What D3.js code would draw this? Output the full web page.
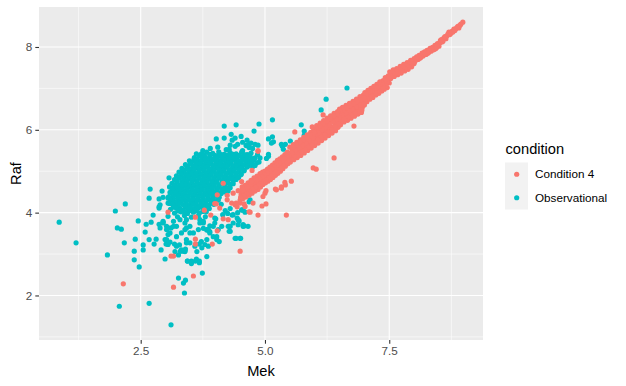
<!DOCTYPE html>
<html>
<head>
<meta charset="utf-8">
<script src="https://cdn.jsdelivr.net/npm/d3@7"></script>
<style>
  body { margin: 0; background: #fff; }
  text { font-family: "Liberation Sans", Arial, sans-serif; }
</style>
</head>
<body>
<div class="chart"></div>
<script>
// legend categories and their colours (ggplot hue palette)
const conditions = ["Condition 4", "Observational"];
const colours = ["#F8766D", "#00BFC4"];

// axis breaks
const xTicks = [2.5, 5.0, 7.5];
const xMinor = [1.25, 3.75, 6.25, 8.75];
const yTicks = [2, 4, 6, 8];
const yMinor = [1, 3, 5, 7];

// [Mek, Raf] for the observational samples
const observationalPoints = [
  [0.86,3.77],[1.20,3.27],[1.83,2.98],[1.99,4.04],[2.19,4.21],[2.03,3.63],[2.11,3.60],[2.17,3.27],
  [2.07,1.74],[2.67,1.81],[3.11,1.29],[2.37,3.07],[2.37,2.86],[2.39,3.36],[2.47,2.69],[2.45,3.80],
  [2.55,3.22],[2.55,3.10],[2.59,3.53],[2.61,3.72],[2.67,3.35],[2.67,4.35],[2.69,4.57],[2.71,3.77],
  [2.75,3.94],[2.77,3.24],[2.81,3.36],[2.87,3.72],[2.87,4.14],[2.93,4.52],[2.95,3.77],[2.91,3.10],
  [2.99,2.88],[3.01,3.24],[3.07,4.84],[3.11,3.63],[3.26,2.42],[3.38,2.06],[3.36,2.30],[3.40,2.37],
  [3.74,2.54],[3.62,5.42],[3.34,5.00],[4.02,5.78],[3.44,2.83],[3.52,2.83],[3.62,2.88],[3.68,2.83],
  [3.30,3.07],[3.36,3.07],[3.40,3.12],[3.68,3.24],[3.72,3.30],[3.09,3.29],[3.18,3.24],[3.28,3.22],
  [3.32,3.10],[3.52,2.80],[3.60,2.83],[2.95,3.79],[3.05,3.63],[2.89,3.63],[3.20,4.57],[2.87,4.33],
  [2.95,4.37],[3.05,4.35],[3.05,4.23],[3.02,3.67],[3.05,3.47],
  // lower part of the cloud
  [3.02,3.59],[3.09,3.51],[3.16,3.67],[3.22,3.42],[3.32,3.51],[3.39,3.59],[3.42,3.35],[3.49,3.67],
  [3.56,3.51],[3.66,3.59],[3.76,3.75],[3.83,3.59],[3.89,3.51],[3.96,3.67],[4.03,3.35],[3.29,3.83],
  [3.42,3.83],[3.69,3.83],[3.86,3.19],[3.49,3.27],[3.22,3.19],[2.99,3.35],[3.05,3.23],[3.19,3.06],
  [3.26,2.98],[3.39,3.06],[3.83,2.94],[3.69,3.75],[3.76,3.62],[3.83,3.58],[3.89,3.54],[4.03,3.42],
  [4.08,3.30],[4.28,3.67],[4.28,3.55],[4.34,3.94],[4.44,3.87],[4.48,3.80],[4.40,3.38],[4.50,3.38],
  [4.01,3.85],[4.36,3.75],[4.46,3.83],[4.56,3.71],[4.26,3.67],[3.76,3.79],[3.89,3.68],[3.99,3.87],
  [4.13,3.67],[2.89,4.19],[2.87,4.11],[3.05,3.91],[2.95,3.75],[3.16,3.79],[3.22,3.67],[3.39,3.75],
  [3.42,3.63],[3.49,3.51],[3.86,3.59],[3.99,3.75],[4.06,3.59],[4.30,3.67],[4.30,3.55],[4.36,3.95],
  [4.53,4.07],[4.42,3.38],[4.51,3.38],[3.96,3.42],[3.83,3.35],[3.79,3.23],[3.73,3.15],[3.63,3.06],
  [3.59,3.19],[3.42,3.27],[3.32,3.08],[3.39,3.08],[3.02,3.35],[3.44,2.83],[3.52,2.77],[3.68,2.79],
  [4.46,3.71],[4.56,3.67],[4.66,3.67],[4.58,3.68],[4.54,4.06],[4.68,4.26],[4.56,4.07],[4.70,4.31],
  [4.60,4.01],[4.12,4.20],[4.20,4.05],[4.30,4.10],[4.25,3.98],[4.45,4.00],[4.15,3.95],
  // dense core
  [3.90,5.55],[4.05,5.58],[4.22,5.52],[4.40,5.60],[4.55,5.50],[4.68,5.57],[3.75,5.50],
  [3.72,5.42],[3.83,5.46],[3.95,5.43],[4.07,5.47],[4.18,5.41],[4.30,5.45],[4.42,5.42],[4.53,5.46],[4.64,5.40],[4.72,5.44],
  [3.78,5.39],[3.89,5.41],[4.01,5.38],[4.12,5.40],[4.24,5.39],[4.36,5.41],[4.47,5.38],[4.58,5.40],[4.68,5.39],
  [3.58,5.33],[3.68,5.37],[3.79,5.34],[3.89,5.36],[3.99,5.33],[4.09,5.37],[4.19,5.34],[4.29,5.36],[4.39,5.33],[4.49,5.37],[4.59,5.34],[4.70,5.36],[4.80,5.32],
  [3.63,5.29],[3.73,5.31],[3.84,5.30],[3.94,5.29],[4.04,5.31],[4.14,5.30],[4.24,5.29],[4.34,5.31],[4.44,5.30],[4.54,5.29],[4.64,5.31],[4.75,5.30],
  [3.48,5.25],[3.57,5.28],[3.67,5.24],[3.77,5.27],[3.87,5.25],[3.97,5.28],[4.07,5.24],[4.17,5.27],[4.27,5.25],[4.37,5.28],[4.47,5.24],[4.57,5.27],[4.67,5.25],[4.78,5.28],[4.88,5.22],
  [3.52,5.21],[3.62,5.20],[3.72,5.22],[3.82,5.21],[3.92,5.20],[4.02,5.22],[4.12,5.21],[4.22,5.20],[4.32,5.22],[4.42,5.21],[4.52,5.20],[4.62,5.22],[4.73,5.21],[4.83,5.20],
  [3.40,5.16],[3.50,5.19],[3.60,5.15],[3.70,5.18],[3.80,5.16],[3.90,5.19],[4.00,5.15],[4.10,5.18],[4.20,5.16],[4.30,5.19],[4.40,5.15],[4.50,5.18],[4.60,5.16],[4.70,5.19],[4.80,5.14],
  [3.45,5.12],[3.55,5.11],[3.65,5.13],[3.75,5.12],[3.85,5.11],[3.95,5.13],[4.05,5.12],[4.15,5.11],[4.25,5.13],[4.35,5.12],[4.45,5.11],[4.55,5.13],[4.65,5.12],[4.75,5.11],
  [3.33,5.07],[3.43,5.10],[3.53,5.06],[3.63,5.09],[3.73,5.07],[3.83,5.10],[3.93,5.06],[4.03,5.09],[4.13,5.07],[4.23,5.10],[4.33,5.06],[4.43,5.09],[4.53,5.07],[4.64,5.10],
  [3.38,5.03],[3.48,5.02],[3.58,5.04],[3.68,5.03],[3.78,5.02],[3.88,5.04],[3.98,5.03],[4.08,5.02],[4.18,5.04],[4.28,5.03],[4.38,5.02],[4.48,5.04],[4.58,5.03],
  [3.27,4.98],[3.37,5.01],[3.47,4.97],[3.57,5.00],[3.67,4.98],[3.77,5.01],[3.87,4.97],[3.97,5.00],[4.07,4.98],[4.17,5.01],[4.27,4.97],[4.37,5.00],[4.47,4.98],[4.58,5.01],
  [3.32,4.94],[3.42,4.93],[3.52,4.95],[3.62,4.94],[3.72,4.93],[3.82,4.95],[3.92,4.94],[4.02,4.93],[4.12,4.95],[4.22,4.94],[4.32,4.93],[4.42,4.95],[4.52,4.94],
  [3.22,4.89],[3.32,4.92],[3.42,4.88],[3.52,4.91],[3.62,4.89],[3.72,4.92],[3.82,4.88],[3.92,4.91],[4.02,4.89],[4.12,4.92],[4.22,4.88],[4.32,4.91],[4.42,4.89],[4.52,4.92],
  [3.27,4.85],[3.37,4.84],[3.47,4.86],[3.57,4.85],[3.67,4.84],[3.77,4.86],[3.87,4.85],[3.97,4.84],[4.07,4.86],[4.17,4.85],[4.27,4.84],[4.37,4.86],[4.47,4.85],
  [3.18,4.80],[3.28,4.83],[3.38,4.79],[3.48,4.82],[3.58,4.80],[3.68,4.83],[3.78,4.79],[3.88,4.82],[3.98,4.80],[4.08,4.83],[4.20,4.79],[4.30,4.82],[4.42,4.80],
  [3.23,4.76],[3.33,4.75],[3.43,4.77],[3.53,4.76],[3.63,4.75],[3.73,4.77],[3.83,4.76],[3.93,4.75],[4.03,4.77],[4.14,4.76],[4.25,4.75],[4.36,4.77],
  [3.13,4.71],[3.23,4.74],[3.33,4.70],[3.43,4.73],[3.53,4.71],[3.63,4.74],[3.73,4.70],[3.83,4.73],[3.93,4.71],[4.03,4.74],[4.13,4.70],[4.25,4.73],[4.36,4.70],
  [3.18,4.67],[3.28,4.66],[3.38,4.68],[3.48,4.67],[3.58,4.66],[3.68,4.68],[3.78,4.67],[3.88,4.66],[3.98,4.68],[4.08,4.67],[4.19,4.66],[4.30,4.68],
  [3.08,4.62],[3.18,4.65],[3.28,4.61],[3.38,4.64],[3.48,4.62],[3.58,4.65],[3.68,4.61],[3.78,4.64],[3.88,4.62],[3.98,4.65],[4.08,4.61],[4.20,4.64],[4.30,4.60],
  [3.13,4.58],[3.23,4.57],[3.33,4.59],[3.43,4.58],[3.53,4.57],[3.63,4.59],[3.73,4.58],[3.83,4.57],[3.93,4.59],[4.03,4.58],[4.14,4.57],[4.24,4.59],
  [3.14,4.56],[3.24,4.52],[3.34,4.55],[3.44,4.53],[3.54,4.56],[3.64,4.52],[3.74,4.55],[3.84,4.53],[3.94,4.56],[4.04,4.52],[4.16,4.55],[4.26,4.52],
  [3.09,4.49],[3.19,4.48],[3.29,4.50],[3.39,4.49],[3.49,4.48],[3.59,4.50],[3.69,4.49],[3.79,4.48],[3.89,4.50],[3.99,4.49],[4.10,4.48],[4.20,4.50],
  [3.10,4.47],[3.20,4.43],[3.30,4.46],[3.40,4.44],[3.50,4.47],[3.60,4.43],[3.70,4.46],[3.80,4.44],[3.90,4.47],[4.00,4.43],[4.12,4.46],
  [3.15,4.39],[3.25,4.41],[3.35,4.40],[3.45,4.39],[3.55,4.41],[3.65,4.40],[3.75,4.39],[3.85,4.41],[3.95,4.40],[4.05,4.39],
  [3.06,4.38],[3.16,4.34],[3.26,4.37],[3.36,4.35],[3.46,4.38],[3.56,4.34],[3.66,4.37],[3.76,4.35],[3.86,4.38],[3.96,4.34],[4.08,4.37],
  [3.15,4.30],[3.26,4.32],[3.36,4.31],[3.46,4.30],[3.56,4.32],[3.66,4.31],[3.76,4.30],[3.86,4.32],[3.96,4.31],[4.06,4.30],
  [3.10,4.29],[3.21,4.25],[3.31,4.28],[3.41,4.26],[3.51,4.29],[3.61,4.25],[3.71,4.28],[3.81,4.26],[3.91,4.29],[4.01,4.25],
  [3.08,4.22],[3.20,4.21],[3.30,4.23],[3.41,4.22],[3.51,4.21],[3.61,4.23],[3.71,4.22],[3.82,4.21],[3.92,4.23],
  [3.14,4.20],[3.25,4.16],[3.36,4.19],[3.46,4.17],[3.56,4.20],[3.66,4.16],[3.76,4.19],[3.87,4.17],[3.97,4.20],
  [3.16,4.13],[3.28,4.12],[3.40,4.14],[3.50,4.13],[3.61,4.12],[3.72,4.14],[3.83,4.13],
  [3.10,4.08],[3.22,4.11],[3.34,4.07],[3.45,4.10],[3.55,4.08],[3.66,4.11],[3.77,4.07],[3.88,4.10],
  [3.25,4.04],[3.38,4.03],[3.50,4.05],[3.62,4.04],[3.75,4.03],
  [3.18,3.99],[3.31,4.02],[3.44,3.98],[3.56,4.01],[3.68,3.99],[3.82,4.02],
  [3.24,3.90],[3.38,3.93],[3.52,3.89],[3.66,3.92],[3.80,3.90],
  // upper right fringe
  [4.62,5.62],[4.75,5.55],[4.85,5.40],[4.90,5.32],[4.72,5.68],[4.55,5.70],[4.45,5.65],[4.80,5.65],
  [4.18,6.09],[4.42,6.12],[4.88,6.14],[5.15,6.24],[4.32,5.89],[4.18,5.80],[4.40,5.80],[4.78,5.97],
  [4.64,5.75],[4.68,5.65],[4.30,5.63],[4.28,5.53],[4.86,5.63],[5.07,5.78],[5.15,5.83],[5.17,5.71],
  [5.13,5.68],[5.33,5.65],[5.41,5.65],[5.37,5.53],[5.35,5.60],[5.51,5.73],[5.73,6.12],[5.79,5.97],
  [5.79,5.87],[6.65,7.01],[6.23,6.74],[6.13,6.48],[6.47,6.41],[6.29,6.21],[4.52,5.84],[4.34,5.75],
  [5.07,5.41],[5.07,5.36],[5.03,5.31],[5.49,5.30],[4.64,5.63]
];

// [Mek, Raf] for the Condition 4 samples
const condition4Points = [
  [8.98,8.60],[8.92,8.52],[8.88,8.50],[8.84,8.44],[8.80,8.43],[8.76,8.38],[8.72,8.30],[8.70,8.36],
  [8.66,8.27],[8.64,8.20],[8.60,8.22],[8.58,8.14],[8.55,8.18],[8.52,8.10],[8.50,8.02],
  [8.94,8.55],[8.90,8.46],[8.86,8.47],[8.82,8.40],[8.78,8.36],[8.74,8.33],[8.68,8.31],[8.62,8.25],
  [8.56,8.12],[8.53,8.16],[8.49,8.06],
  [8.47,8.08],[8.45,7.98],[8.42,8.04],[8.40,7.94],[8.37,7.99],[8.34,7.90],[8.32,7.97],[8.29,7.86],
  [8.26,7.92],[8.24,7.82],[8.21,7.88],[8.18,7.78],[8.16,7.85],[8.13,7.74],[8.10,7.80],[8.08,7.70],
  [8.05,7.76],[8.02,7.66],[8.00,7.60],[8.00,7.72],
  [8.46,8.03],[8.43,7.96],[8.38,7.93],[8.35,7.96],[8.30,7.91],[8.27,7.85],[8.22,7.84],[8.19,7.83],
  [8.14,7.78],[8.11,7.73],[8.06,7.72],[8.03,7.70],[8.01,7.65],
  [7.97,7.62],[7.95,7.52],[7.93,7.68],[7.90,7.55],[7.88,7.46],[7.86,7.62],[7.83,7.50],[7.81,7.42],
  [7.79,7.58],[7.76,7.46],[7.74,7.37],[7.72,7.53],[7.69,7.42],[7.67,7.33],[7.65,7.48],[7.62,7.38],
  [7.60,7.29],[7.58,7.45],[7.55,7.33],[7.53,7.24],[7.51,7.40],[7.50,7.13],
  [7.96,7.58],[7.92,7.60],[7.89,7.52],[7.85,7.55],[7.82,7.46],[7.78,7.51],[7.75,7.42],[7.71,7.46],
  [7.68,7.38],[7.64,7.41],[7.61,7.34],[7.57,7.38],[7.54,7.28],[7.52,7.32],
  [7.48,7.30],[7.47,7.20],[7.46,7.02],[7.44,7.12],[7.42,7.26],[7.40,6.98],[7.39,7.08],[7.37,7.18],
  [7.35,6.94],[7.33,7.04],[7.31,7.16],[7.29,6.88],[7.27,6.98],[7.25,7.10],[7.23,6.84],[7.21,6.94],
  [7.19,7.05],[7.17,6.78],[7.15,6.88],[7.13,7.00],[7.11,6.74],[7.09,6.84],[7.07,6.95],[7.05,6.68],
  [7.03,6.78],[7.01,6.90],[7.00,6.60],
  [7.49,7.25],[7.45,7.16],[7.43,7.06],[7.41,7.20],[7.38,7.02],[7.36,7.12],[7.32,7.10],[7.30,6.93],
  [7.28,7.04],[7.24,7.02],[7.22,6.89],[7.20,7.00],[7.16,6.94],[7.14,6.82],[7.12,6.92],[7.08,6.90],
  [7.06,6.76],[7.04,6.86],[7.02,6.70],
  [6.98,6.84],[6.97,6.72],[6.96,6.55],[6.94,6.42],[6.93,6.66],[6.91,6.80],[6.89,6.50],[6.87,6.38],
  [6.86,6.62],[6.84,6.74],[6.82,6.46],[6.80,6.33],[6.79,6.57],[6.77,6.69],[6.75,6.41],[6.73,6.28],
  [6.72,6.52],[6.70,6.64],[6.68,6.36],[6.66,6.23],[6.65,6.47],[6.63,6.59],[6.61,6.32],[6.59,6.19],
  [6.58,6.42],[6.56,6.54],[6.54,6.27],[6.52,6.12],[6.51,6.38],[6.50,6.50],[6.79,6.09],
  [6.99,6.78],[6.97,6.62],[6.95,6.48],[6.92,6.72],[6.90,6.60],[6.88,6.44],[6.85,6.68],[6.83,6.55],
  [6.81,6.40],[6.78,6.63],[6.76,6.50],[6.74,6.35],[6.71,6.58],[6.69,6.45],[6.67,6.30],[6.64,6.53],
  [6.62,6.40],[6.60,6.26],[6.57,6.48],[6.55,6.35],[6.53,6.20],[6.51,6.45],
  [6.48,6.22],[6.47,6.06],[6.46,6.44],[6.44,6.33],[6.42,5.98],[6.41,6.15],[6.39,6.40],[6.37,6.28],
  [6.35,5.92],[6.34,6.08],[6.32,6.34],[6.30,6.20],[6.28,5.86],[6.27,6.02],[6.25,6.28],[6.23,6.14],
  [6.21,5.80],[6.20,5.96],[6.18,6.22],[6.16,6.08],[6.14,5.74],[6.13,5.90],[6.11,6.16],[6.09,6.02],
  [6.07,5.68],[6.06,5.84],[6.04,6.10],[6.02,5.96],[6.00,5.62],[6.00,5.80],
  [6.49,6.30],[6.48,6.14],[6.45,6.38],[6.43,6.25],[6.41,6.06],[6.38,6.34],[6.36,6.20],[6.34,6.00],
  [6.31,6.27],[6.29,6.13],[6.27,5.94],[6.24,6.21],[6.22,6.07],[6.20,5.88],[6.17,6.15],[6.15,6.00],
  [6.13,5.82],[6.10,6.09],[6.08,5.93],[6.06,5.76],[6.03,6.03],[6.01,5.88],[6.00,5.70],
  [5.98,6.00],[5.97,5.88],[5.95,5.72],[5.93,5.56],[5.92,5.94],[5.90,5.82],[5.88,5.66],[5.86,5.50],
  [5.85,5.88],[5.83,5.76],[5.81,5.60],[5.79,5.44],[5.78,5.82],[5.76,5.70],[5.74,5.54],[5.72,5.38],
  [5.71,5.76],[5.69,5.64],[5.67,5.48],[5.65,5.33],[5.64,5.70],[5.62,5.58],[5.60,5.42],[5.58,5.28],
  [5.57,5.64],[5.55,5.52],[5.53,5.36],[5.51,5.22],[5.50,5.58],[5.50,5.44],
  [5.99,5.94],[5.96,5.80],[5.94,5.64],[5.91,5.88],[5.89,5.74],[5.87,5.58],[5.84,5.82],[5.82,5.68],
  [5.80,5.52],[5.77,5.76],[5.75,5.62],[5.73,5.46],[5.70,5.70],[5.68,5.56],[5.66,5.40],[5.63,5.64],
  [5.61,5.50],[5.59,5.35],[5.56,5.58],[5.54,5.44],[5.52,5.29],
  [5.48,5.32],[5.46,5.18],[5.45,5.46],[5.43,5.28],[5.41,5.12],[5.40,5.40],[5.38,5.22],[5.36,5.06],
  [5.35,5.35],[5.33,5.17],[5.31,5.00],[5.30,5.30],[5.28,5.12],[5.26,4.95],[5.25,5.26],[5.23,5.06],
  [5.21,4.90],[5.20,5.20],[5.18,5.02],[5.16,4.85],[5.15,5.15],[5.13,4.97],[5.11,4.80],[5.10,5.10],
  [5.08,4.92],[5.06,4.76],[5.05,5.05],[5.03,4.88],[5.01,4.72],[5.00,5.00],
  [5.49,5.39],[5.47,5.25],[5.44,5.36],[5.42,5.20],[5.39,5.30],[5.37,5.14],[5.34,5.25],[5.32,5.08],
  [5.29,5.20],[5.27,5.03],[5.24,5.15],[5.22,4.98],[5.19,5.10],[5.17,4.93],[5.14,5.06],[5.12,4.88],
  [5.09,5.01],[5.07,4.84],[5.04,4.96],[5.02,4.80],
  [4.98,4.84],[4.96,4.68],[4.95,4.98],[4.93,4.78],[4.91,4.62],[4.90,4.94],[4.88,4.74],[4.86,4.56],
  [4.84,4.88],[4.82,4.70],[4.80,4.52],[4.78,4.84],[4.76,4.64],[4.74,4.47],[4.72,4.78],[4.70,4.58],
  [4.68,4.42],[4.66,4.72],[4.64,4.54],[4.62,4.38],[4.60,4.66],[4.58,4.48],[4.56,4.34],[4.54,4.62],
  [4.52,4.44],[4.50,4.30],
  [4.99,4.91],[4.97,4.76],[4.94,4.86],[4.92,4.70],[4.89,4.82],[4.87,4.65],[4.83,4.78],[4.81,4.61],
  [4.77,4.74],[4.75,4.56],[4.71,4.68],[4.69,4.50],[4.65,4.63],[4.63,4.46],[4.59,4.57],[4.57,4.41],
  [4.53,4.53],[4.51,4.37],
  // scattered below the band and inside the observational cloud
  [4.16,4.71],[4.04,4.43],[3.99,4.22],[3.78,4.06],[4.09,4.11],[3.91,3.94],[3.60,3.89],[3.05,4.01],
  [4.16,3.85],[4.26,3.83],[4.70,4.01],[4.86,3.94],[4.24,4.31],[4.33,4.23],[4.40,4.19],[4.50,4.23],
  [4.60,4.15],[4.53,4.75],[4.73,4.75],[4.74,5.02],[4.86,5.48],[5.00,4.47],[4.96,4.39],[5.02,4.53],
  [5.02,4.21],[4.94,4.16],[4.76,4.23],[4.68,4.02],[4.42,4.23],[4.44,4.14],[4.58,4.21],[4.24,4.42],
  [4.04,3.56],[3.94,3.24],[3.60,3.36],[3.60,3.24],[3.16,2.95],[3.11,2.95],[3.56,2.47],[3.16,2.20],
  [2.15,2.28],[4.50,3.07],[5.43,3.94],[5.53,4.76],[5.21,4.57],[5.33,4.62],[5.41,4.67],[5.60,5.95],
  [5.95,6.07],[6.17,6.36],[6.39,5.32],[5.97,5.08],[6.03,5.05],[4.86,5.50],[4.02,4.21],[4.36,4.47],
  [4.46,4.53],[4.56,4.55],[5.23,4.55],[5.33,4.59],[5.40,4.73]
];

const seriesData = [condition4Points, observationalPoints];

const width = 626, height = 386;
const panel = { left: 39, right: 483, top: 7, bottom: 340 };
const pointRadius = 2.6;

const svg = d3.select(".chart")
  .append("svg")
  .attr("width", width)
  .attr("height", height)
  .style("background-color", "white");

// ggplot style 5% expansion of the data range
const allPoints = observationalPoints.concat(condition4Points);
const xExt = d3.extent(allPoints, d => d[0]);
const yExt = d3.extent(allPoints, d => d[1]);
const xPad = (xExt[1] - xExt[0]) * 0.05;
const yPad = (yExt[1] - yExt[0]) * 0.05;

const x = d3.scaleLinear()
  .domain([xExt[0] - xPad, xExt[1] + xPad])
  .range([panel.left, panel.right]);

const y = d3.scaleLinear()
  .domain([yExt[0] - yPad, yExt[1] + yPad])
  .range([panel.bottom, panel.top]);

// panel background
svg.append("rect")
  .attr("x", panel.left)
  .attr("y", panel.top)
  .attr("width", panel.right - panel.left)
  .attr("height", panel.bottom - panel.top)
  .attr("fill", "#EBEBEB");

// minor grid
svg.selectAll(".xminor")
  .data(xMinor)
  .enter().append("line")
  .attr("x1", d => x(d)).attr("x2", d => x(d))
  .attr("y1", panel.top).attr("y2", panel.bottom)
  .attr("stroke", "white").attr("stroke-width", 0.55);

svg.selectAll(".yminor")
  .data(yMinor)
  .enter().append("line")
  .attr("y1", d => y(d)).attr("y2", d => y(d))
  .attr("x1", panel.left).attr("x2", panel.right)
  .attr("stroke", "white").attr("stroke-width", 0.55);

// major grid
svg.selectAll(".xmajor")
  .data(xTicks)
  .enter().append("line")
  .attr("x1", d => x(d)).attr("x2", d => x(d))
  .attr("y1", panel.top).attr("y2", panel.bottom)
  .attr("stroke", "white").attr("stroke-width", 1.1);

svg.selectAll(".ymajor")
  .data(yTicks)
  .enter().append("line")
  .attr("y1", d => y(d)).attr("y2", d => y(d))
  .attr("x1", panel.left).attr("x2", panel.right)
  .attr("stroke", "white").attr("stroke-width", 1.1);

// points: observational first, condition 4 on top
[1, 0].forEach(function(i) {
  svg.append("g")
    .selectAll("circle")
    .data(seriesData[i])
    .enter().append("circle")
    .attr("cx", d => x(d[0]))
    .attr("cy", d => y(d[1]))
    .attr("r", pointRadius)
    .attr("fill", colours[i]);
});

// axes
let xAxis = svg.append("g")
  .attr("transform", "translate(0," + panel.bottom + ")")
  .call(d3.axisBottom(x).tickValues(xTicks).tickFormat(d3.format(".1f")).tickSize(3.7).tickPadding(3));

let yAxis = svg.append("g")
  .attr("transform", "translate(" + panel.left + ",0)")
  .call(d3.axisLeft(y).tickValues(yTicks).tickFormat(d3.format("d")).tickSize(3.7).tickPadding(3));

[xAxis, yAxis].forEach(function(a) {
  a.select(".domain").remove();
  a.selectAll(".tick line").attr("stroke", "#333333").attr("stroke-width", 1.1);
  a.selectAll(".tick text")
    .attr("fill", "#4D4D4D")
    .style("font-size", "11.7px")
    .style("font-family", "'Liberation Sans', Arial, sans-serif");
});

// axis titles
svg.append("text")
  .attr("x", (panel.left + panel.right) / 2)
  .attr("y", 375.5)
  .attr("text-anchor", "middle")
  .style("font-size", "14.67px")
  .attr("fill", "black")
  .text("Mek");

svg.append("text")
  .attr("transform", "translate(20.5," + ((panel.top + panel.bottom) / 2) + ") rotate(-90)")
  .attr("text-anchor", "middle")
  .style("font-size", "14.67px")
  .attr("fill", "black")
  .text("Raf");

// legend
let legend = svg.append("g");

legend.append("text")
  .attr("x", 505.5)
  .attr("y", 154)
  .style("font-size", "14.67px")
  .attr("fill", "black")
  .text("condition");

let keyTop = 162.5, keySize = 23.5;

conditions.forEach(function(c, i) {
  legend.append("rect")
    .attr("x", 505)
    .attr("y", keyTop + i * keySize)
    .attr("width", 23)
    .attr("height", keySize)
    .attr("fill", "#F2F2F2");

  legend.append("circle")
    .attr("cx", 516.7)
    .attr("cy", keyTop + i * keySize + keySize / 2)
    .attr("r", pointRadius)
    .attr("fill", colours[i]);

  legend.append("text")
    .attr("x", 535)
    .attr("y", keyTop + i * keySize + keySize / 2 + 4.2)
    .style("font-size", "11.7px")
    .attr("fill", "black")
    .text(c);
});
</script>
</body>
</html>
